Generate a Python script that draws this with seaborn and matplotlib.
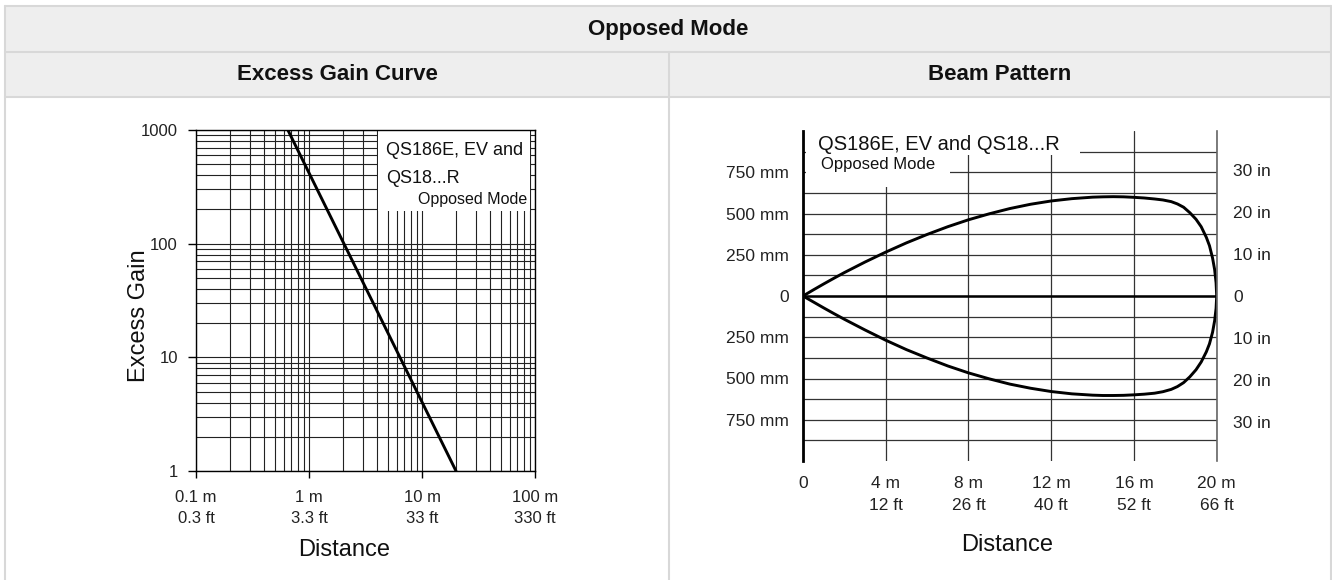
import matplotlib
matplotlib.use('Agg')
import matplotlib.pyplot as plt
import seaborn as sns
import numpy as np
from matplotlib.patches import Rectangle
from matplotlib.lines import Line2D
from matplotlib.ticker import FixedLocator, LogLocator, NullFormatter

# Excess gain curve (log-log)
gain_distance_m = [0.65, 20.0]
gain_excess = [1000, 1]
gain_xticks = [0.1, 1, 10, 100]
gain_xlabels = ['0.1 m\n0.3 ft', '1 m\n3.3 ft', '10 m\n33 ft', '100 m\n330 ft']
gain_yticks = [1, 10, 100, 1000]
gain_ylabels = ['1', '10', '100', '1000']

# Beam pattern outline (distance in m, half width in mm)
beam_distance_m = [0, 0.5, 1, 1.5, 2, 3, 4, 5, 6, 7, 8, 9, 10, 11, 12, 13, 14, 14.5, 15, 15.5, 16,
                   16.5, 17, 17.4, 17.8, 18.1, 18.4, 18.7, 19.0, 19.25, 19.5, 19.65, 19.8, 19.9, 19.97, 20]
beam_upper_mm = [0, 37, 73, 108, 142, 206, 266, 322, 373, 420, 462, 498, 530, 556, 576, 590, 599, 601, 602, 601, 598,
                 594, 588, 582, 572, 558, 538, 505, 465, 420, 355, 305, 230, 160, 80, 0]
beam_lower_mm = [0, -36, -72, -107, -141, -206, -268, -325, -376, -424, -466, -502, -534, -559, -579, -593, -601, -603, -603, -602, -599,
                 -595, -589, -580, -566, -549, -525, -490, -447, -400, -338, -290, -220, -150, -75, 0]
beam_xticks = [0, 4, 8, 12, 16, 20]
beam_xlabels = ['0', '4 m\n12 ft', '8 m\n26 ft', '12 m\n40 ft', '16 m\n52 ft', '20 m\n66 ft']
beam_mm_ticks = [-750, -500, -250, 0, 250, 500, 750]
beam_mm_labels = ['750 mm', '500 mm', '250 mm', '0', '250 mm', '500 mm', '750 mm']
beam_in_ticks = [-30, -20, -10, 0, 10, 20, 30]
beam_in_labels = ['30 in', '20 in', '10 in', '0', '10 in', '20 in', '30 in']

sns.set_theme(style='white')
plt.rcParams['font.family'] = ['Liberation Sans', 'DejaVu Sans']
header_font = ['Liberation Sans', 'DejaVu Sans']

W, H = 1332, 580
fig = plt.figure(figsize=(W / 100, H / 100), dpi=100)
fig.patch.set_facecolor('white')


def fx(px):
    return px / W


def fy(py):
    return 1 - py / H


# table look: header cells and borders
borderColor = '#d8d8d8'
fig.add_artist(Rectangle((fx(5), fy(97)), fx(1331) - fx(5), fy(6) - fy(97),
                         transform=fig.transFigure, facecolor='#eeeeee', edgecolor='none', zorder=0))
for yy in [6, 52, 97]:
    fig.add_artist(Line2D([fx(5), fx(1331)], [fy(yy), fy(yy)], transform=fig.transFigure,
                          color=borderColor, lw=1.5))
for xx, ytop in [(5, 6), (1331, 6), (669, 52)]:
    fig.add_artist(Line2D([fx(xx), fx(xx)], [fy(ytop), 0], transform=fig.transFigure,
                          color=borderColor, lw=1.5))

fig.text(fx(668), fy(29), 'Opposed Mode', ha='center', va='center', fontsize=16,
         fontweight='bold', family=header_font, color='#111111')
fig.text(fx(337), fy(75), 'Excess Gain Curve', ha='center', va='center', fontsize=16,
         fontweight='bold', family=header_font, color='#111111')
fig.text(fx(1000), fy(75), 'Beam Pattern', ha='center', va='center', fontsize=16,
         fontweight='bold', family=header_font, color='#111111')

# ---------------- Excess gain curve ----------------
ax1 = fig.add_axes([fx(196), fy(471), fx(535) - fx(196), fy(130) - fy(471)])
ax1.set_xscale('log')
ax1.set_yscale('log')
sns.lineplot(x=gain_distance_m, y=gain_excess, ax=ax1, color='black', lw=2.1, zorder=2)
ax1.set_xlim(gain_xticks[0], gain_xticks[-1])
ax1.set_ylim(gain_yticks[0], gain_yticks[-1])
ax1.xaxis.set_major_locator(FixedLocator(gain_xticks))
ax1.yaxis.set_major_locator(FixedLocator(gain_yticks))
ax1.xaxis.set_minor_locator(LogLocator(base=10, subs=np.arange(2, 10)))
ax1.yaxis.set_minor_locator(LogLocator(base=10, subs=np.arange(2, 10)))
ax1.xaxis.set_minor_formatter(NullFormatter())
ax1.yaxis.set_minor_formatter(NullFormatter())
ax1.set_xticklabels(gain_xlabels, linespacing=1.5)
ax1.set_yticklabels(gain_ylabels)
ax1.grid(which='both', color='#222222', lw=0.8)
ax1.set_axisbelow(True)
ax1.tick_params(which='major', bottom=True, left=True, direction='out', length=5, width=1,
                color='black', labelsize=12, labelcolor='#222222')
ax1.tick_params(axis='x', which='major', pad=8.5)
ax1.tick_params(axis='y', which='major', pad=7, length=6)
ax1.tick_params(which='minor', length=0)
for side in ['left', 'bottom', 'right', 'top']:
    ax1.spines[side].set_color('black')
    ax1.spines[side].set_linewidth(1)
ax1.set_xlabel('Distance', fontsize=17, color='#111111')
ax1.set_ylabel('Excess Gain', fontsize=17, color='#111111')
ax1.xaxis.set_label_coords(0.4366, -0.233)
ax1.xaxis.label.set_va('center')
ax1.yaxis.set_label_coords(-0.168, 0.455)
ax1.yaxis.label.set_va('center')

ax1.add_patch(Rectangle((0.537, 0.7625), 0.448, 0.24, transform=ax1.transAxes,
                        facecolor='white', edgecolor='none', zorder=2.5, clip_on=False))
ax1.text(0.56, 0.94, 'QS186E, EV and', transform=ax1.transAxes, fontsize=13,
         ha='left', va='center', zorder=3, color='#111111')
ax1.text(0.56, 0.858, 'QS18...R', transform=ax1.transAxes, fontsize=13,
         ha='left', va='center', zorder=3, color='#111111')
ax1.text(0.976, 0.797, 'Opposed Mode', transform=ax1.transAxes, fontsize=11.5,
         ha='right', va='center', zorder=3, color='#111111')

# ---------------- Beam pattern ----------------
ax2 = fig.add_axes([fx(803), fy(461), fx(1216.7) - fx(803), fy(131) - fy(461)])
sns.lineplot(x=beam_distance_m, y=beam_upper_mm, ax=ax2, sort=False, color='black', lw=2.1, zorder=2)
sns.lineplot(x=beam_distance_m, y=beam_lower_mm, ax=ax2, sort=False, color='black', lw=2.1, zorder=2)
ax2.set_xlim(beam_xticks[0], beam_xticks[-1])
ax2.set_ylim(-1000, 1000)
ax2.xaxis.set_major_locator(FixedLocator(beam_xticks))
ax2.set_xticklabels(beam_xlabels, linespacing=1.55)
ax2.yaxis.set_major_locator(FixedLocator(beam_mm_ticks))
ax2.yaxis.set_minor_locator(FixedLocator(np.arange(-875, 876, 250)))
ax2.set_yticklabels(beam_mm_labels)
ax2.grid(which='both', axis='y', color='#333333', lw=0.9)
ax2.grid(which='major', axis='x', color='#333333', lw=0.9)
ax2.set_axisbelow(True)
ax2.axhline(0, color='black', lw=1.8, zorder=1.5)
ax2.tick_params(which='both', length=0, labelsize=12.5, labelcolor='#222222')
ax2.tick_params(axis='x', pad=11)
ax2.tick_params(axis='y', pad=10)
ax2.spines['left'].set_color('black')
ax2.spines['left'].set_linewidth(2)
ax2.spines['right'].set_color('#666666')
ax2.spines['right'].set_linewidth(1.2)
ax2.spines['top'].set_visible(False)
ax2.spines['bottom'].set_visible(False)
ax2.set_xlabel('Distance', fontsize=17, color='#111111')
ax2.xaxis.set_label_coords(0.493, -0.2545)
ax2.xaxis.label.set_va('center')
ax2.set_ylabel('')

ax2r = ax2.twinx()
ax2r.set_ylim(-1000 / 25.4, 1000 / 25.4)
ax2r.yaxis.set_major_locator(FixedLocator(beam_in_ticks))
ax2r.set_yticklabels(beam_in_labels)
ax2r.tick_params(length=0, labelsize=12.5, labelcolor='#222222', pad=12)
for side in ['left', 'bottom', 'right', 'top']:
    ax2r.spines[side].set_visible(False)
ax2r.grid(False)

# white masks behind the legend text
ax2.add_patch(Rectangle((0.008, 0.927), 0.662, 0.073, transform=ax2.transAxes,
                        facecolor='white', edgecolor='none', zorder=2.5))
ax2.add_patch(Rectangle((0.008, 0.83), 0.347, 0.097, transform=ax2.transAxes,
                        facecolor='white', edgecolor='none', zorder=2.5))
ax2.text(0.036, 0.958, 'QS186E, EV and QS18...R', transform=ax2.transAxes, fontsize=14.5,
         ha='left', va='center', zorder=3, color='#111111')
ax2.text(0.043, 0.9, 'Opposed Mode', transform=ax2.transAxes, fontsize=12,
         ha='left', va='center', zorder=3, color='#111111')

fig.savefig('out.png', dpi=100)
